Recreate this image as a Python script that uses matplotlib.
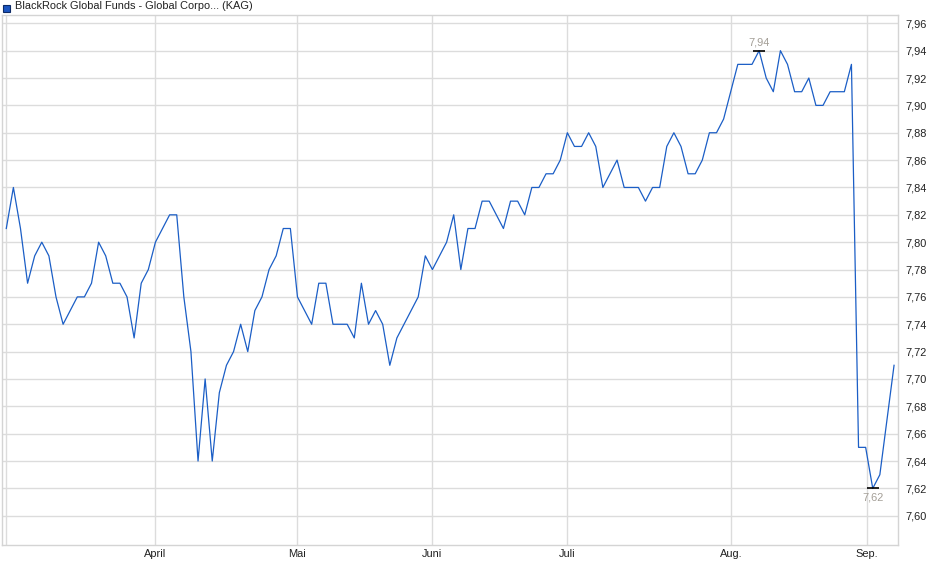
import numpy as np
import matplotlib
matplotlib.use("Agg")
import matplotlib.pyplot as plt
from matplotlib.patches import Rectangle
from matplotlib.ticker import FixedLocator, FuncFormatter

plt.rcParams['font.family'] = ['Liberation Sans', 'DejaVu Sans']

##### chart data (one value per trading day)
title = "BlackRock Global Funds - Global Corpo... (KAG)"
prices = [
    7.81, 7.84, 7.81, 7.77, 7.79, 7.80, 7.79, 7.76, 7.74, 7.75,
    7.76, 7.76, 7.77, 7.80, 7.79, 7.77, 7.77, 7.76, 7.73, 7.77,
    7.78, 7.80, 7.81, 7.82, 7.82, 7.76, 7.72, 7.64, 7.70, 7.64,
    7.69, 7.71, 7.72, 7.74, 7.72, 7.75, 7.76, 7.78, 7.79, 7.81,
    7.81, 7.76, 7.75, 7.74, 7.77, 7.77, 7.74, 7.74, 7.74, 7.73,
    7.77, 7.74, 7.75, 7.74, 7.71, 7.73, 7.74, 7.75, 7.76, 7.79,
    7.78, 7.79, 7.80, 7.82, 7.78, 7.81, 7.81, 7.83, 7.83, 7.82,
    7.81, 7.83, 7.83, 7.82, 7.84, 7.84, 7.85, 7.85, 7.86, 7.88,
    7.87, 7.87, 7.88, 7.87, 7.84, 7.85, 7.86, 7.84, 7.84, 7.84,
    7.83, 7.84, 7.84, 7.87, 7.88, 7.87, 7.85, 7.85, 7.86, 7.88,
    7.88, 7.89, 7.91, 7.93, 7.93, 7.93, 7.94, 7.92, 7.91, 7.94,
    7.93, 7.91, 7.91, 7.92, 7.90, 7.90, 7.91, 7.91, 7.91, 7.93,
    7.65, 7.65, 7.62, 7.63, 7.67, 7.71,
]
month_labels = ["", "April", "Mai", "Juni", "Juli", "Aug.", "Sep."]
month_pos = [0, 21, 41, 60, 79, 102.1, 121.2]
y_ticks = [7.60, 7.62, 7.64, 7.66, 7.68, 7.70, 7.72, 7.74, 7.76, 7.78,
           7.80, 7.82, 7.84, 7.86, 7.88, 7.90, 7.92, 7.94, 7.96]

###########################################################################
# Plot
###########################################################################
x = np.arange(len(prices))
line_color = '#1b5ec6'
grid_color = '#dcdcdc'

fig = plt.figure(figsize=(9.4, 5.79), dpi=100)
ax = fig.add_axes([0.00245, 0.0582, 0.9532, 0.9164])

ax.plot(x, prices, color=line_color, lw=0.9, zorder=3)

ax.set_xlim(-0.56, 125.6)
ax.set_ylim(7.5784, 7.9663)

ax.xaxis.set_major_locator(FixedLocator(month_pos))
ax.set_xticklabels(month_labels)
ax.yaxis.set_major_locator(FixedLocator(y_ticks))
ax.yaxis.set_major_formatter(FuncFormatter(lambda v, p: f"{v:.2f}".replace(".", ",")))
ax.yaxis.tick_right()

ax.tick_params(axis='both', length=0, labelsize=7.9, colors='#222222')
ax.tick_params(axis='y', pad=5)
ax.tick_params(axis='x', pad=3)

ax.grid(True, color=grid_color, lw=1.0, zorder=0)
for s in ax.spines.values():
    s.set_color('#d4d4d4')
    s.set_linewidth(1.0)

# max / min markers
i_max = int(np.argmax(prices))
i_min = int(np.argmin(prices))
ax.plot([i_max], [prices[i_max]], marker='_', ms=9, mew=1.2, color='black', zorder=4)
ax.plot([i_min], [prices[i_min]], marker='_', ms=9, mew=1.2, color='black', zorder=4)
fmt = lambda v: f"{v:.2f}".replace(".", ",")
ax.annotate(fmt(prices[i_max]), (i_max, prices[i_max]), xytext=(0, 2),
            textcoords='offset points', ha='center', va='bottom',
            fontsize=7.9, color='#a39e96')
ax.annotate(fmt(prices[i_min]), (i_min, prices[i_min]), xytext=(0, -3),
            textcoords='offset points', ha='center', va='top',
            fontsize=7.9, color='#a39e96')

# legend-like title with a small square swatch
fig.patches.append(Rectangle((3 / 940, 1 - 12 / 579), 7 / 940, 7 / 579,
                             transform=fig.transFigure, facecolor='#1b55c0',
                             edgecolor='#0d2a66', lw=0.8))
fig.text(0.016, 0.9895, title, color='#222222', fontsize=7.9, va='center', ha='left')

fig.savefig("out.png", dpi=100)
